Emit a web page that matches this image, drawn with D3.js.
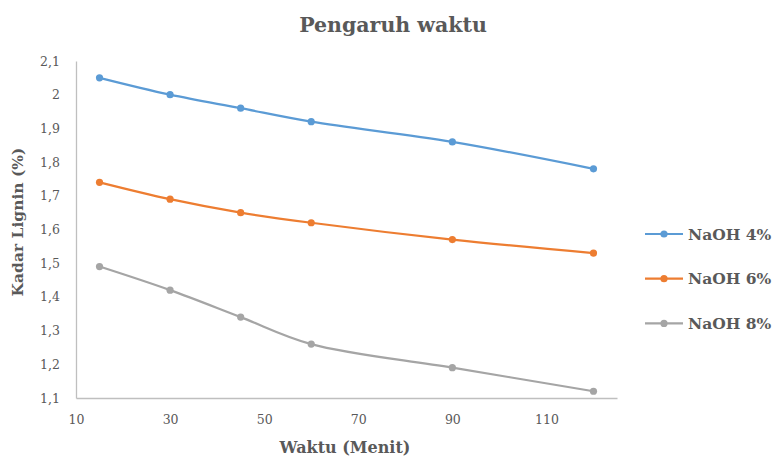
<!DOCTYPE html>
<html>
<head>
<meta charset="utf-8">
<script src="https://cdn.jsdelivr.net/npm/d3@7/dist/d3.min.js"></script>
<style>
  html, body { margin: 0; padding: 0; background: #fff; }
  svg { display: block; }
  text { font-family: "DejaVu Serif", "Liberation Serif", serif; fill: #595959; }
</style>
</head>
<body>
<svg id="chart" width="776" height="461"></svg>
<script>
// Waktu (menit)
const waktu = [15, 30, 45, 60, 90, 120];
// Kadar lignin (%) per konsentrasi NaOH
const naoh4 = [2.05, 2.00, 1.96, 1.92, 1.86, 1.78];
const naoh6 = [1.74, 1.69, 1.65, 1.62, 1.57, 1.53];
const naoh8 = [1.49, 1.42, 1.34, 1.26, 1.19, 1.12];
const seriesNames = ["NaOH 4%", "NaOH 6%", "NaOH 8%"];
const seriesColors = ["#5B9BD5", "#ED7D31", "#A5A5A5"];
const xTicks = [10, 30, 50, 70, 90, 110];
const yTicks = [1.1, 1.2, 1.3, 1.4, 1.5, 1.6, 1.7, 1.8, 1.9, 2.0, 2.1];

const series = [naoh4, naoh6, naoh8].map((vals, i) => ({
  name: seriesNames[i],
  color: seriesColors[i],
  points: vals.map((v, j) => ({ x: waktu[j], y: v }))
}));

const svg = d3.select("#chart");

const x = d3.scaleLinear().domain([10, 125]).range([76, 617]);
const y = d3.scaleLinear().domain([1.1, 2.1]).range([398, 61]);

const fmtComma = v => String(+v.toFixed(1)).replace(".", ",");

// Axes
const xAxis = svg.append("g")
  .attr("transform", `translate(0,${y(1.1)})`)
  .call(d3.axisBottom(x).tickValues(xTicks).tickSize(0).tickPadding(17));
xAxis.select(".domain").attr("stroke", "#BFBFBF").attr("stroke-width", 1.3);
xAxis.selectAll("text").style("font-size", "12.5px").attr("fill", "#595959");

const yAxis = svg.append("g")
  .attr("transform", `translate(${x(10)},0)`)
  .call(d3.axisLeft(y).tickValues(yTicks).tickFormat(fmtComma).tickSize(0).tickPadding(16));
yAxis.select(".domain").attr("stroke", "#BFBFBF").attr("stroke-width", 1.3);
yAxis.selectAll("text").style("font-size", "12.5px").attr("fill", "#595959");

// Lines and markers
const line = d3.line()
  .x(d => x(d.x))
  .y(d => y(d.y))
  .curve(d3.curveCatmullRom.alpha(0.5));

const g = svg.append("g");
series.forEach(s => {
  g.append("path")
    .datum(s.points)
    .attr("fill", "none")
    .attr("stroke", s.color)
    .attr("stroke-width", 2.2)
    .attr("stroke-linecap", "round")
    .attr("d", line);
  g.selectAll(null)
    .data(s.points)
    .enter().append("circle")
    .attr("cx", d => x(d.x))
    .attr("cy", d => y(d.y))
    .attr("r", 3.6)
    .attr("fill", s.color);
});

// Title
svg.append("text")
  .attr("x", 393).attr("y", 32)
  .attr("text-anchor", "middle")
  .style("font-size", "20.5px").style("font-weight", "bold")
  .text("Pengaruh waktu");

// Axis titles
svg.append("text")
  .attr("x", 345).attr("y", 453)
  .attr("text-anchor", "middle")
  .style("font-size", "16px").style("font-weight", "bold")
  .text("Waktu (Menit)");

svg.append("text")
  .attr("transform", "translate(23,222) rotate(-90)")
  .attr("text-anchor", "middle")
  .style("font-size", "15.5px").style("font-weight", "bold")
  .text("Kadar Lignin (%)");

// Legend
const legend = svg.append("g");
series.forEach((s, i) => {
  const ly = 234 + i * 44.7;
  legend.append("line")
    .attr("x1", 645).attr("x2", 683)
    .attr("y1", ly).attr("y2", ly)
    .attr("stroke", s.color).attr("stroke-width", 2.2);
  legend.append("circle")
    .attr("cx", 664).attr("cy", ly).attr("r", 3.6)
    .attr("fill", s.color);
  legend.append("text")
    .attr("x", 688).attr("y", ly + 5.5)
    .style("font-size", "15.5px").style("font-weight", "bold")
    .text(s.name);
});
</script>
</body>
</html>
